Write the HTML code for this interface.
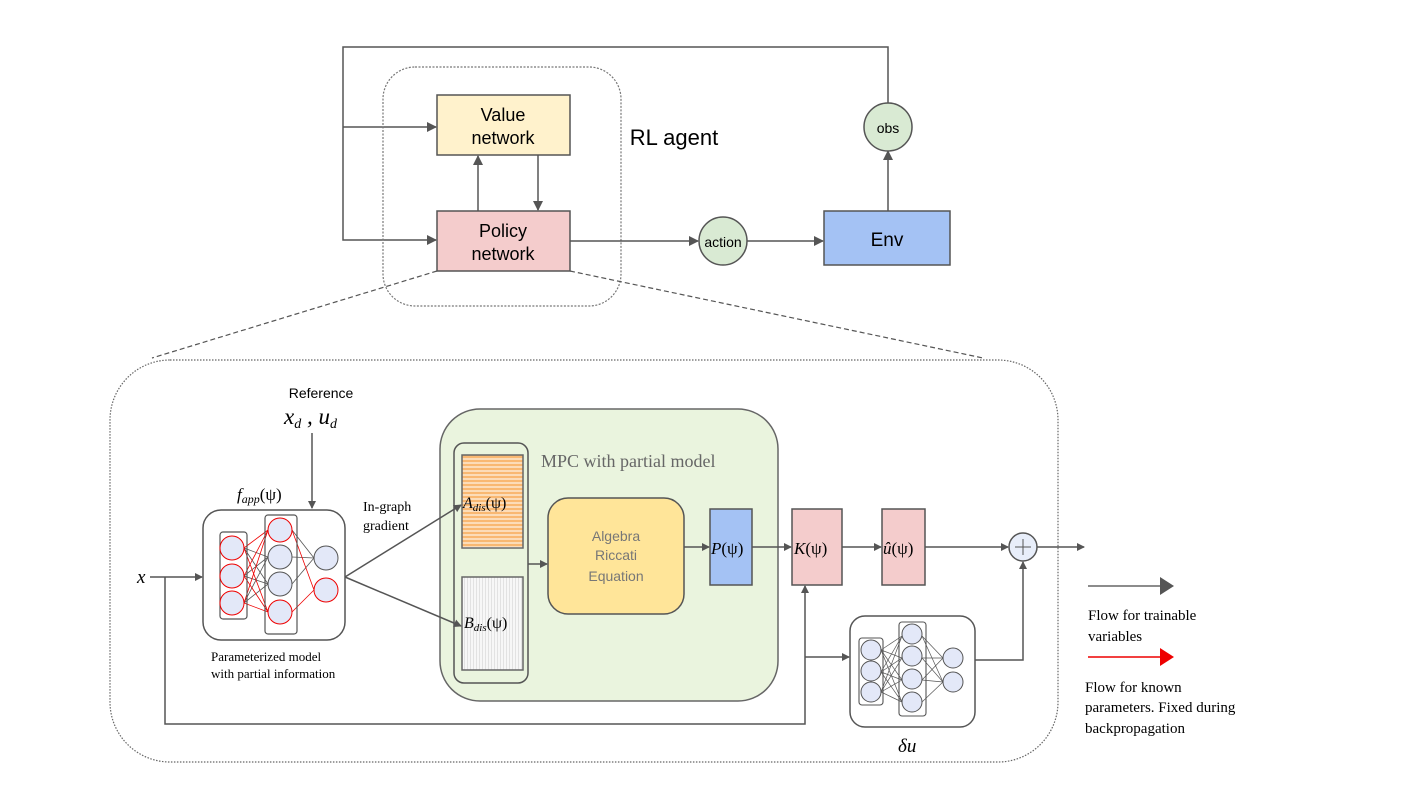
<!DOCTYPE html>
<html><head><meta charset="utf-8"><style>
html,body{margin:0;padding:0;background:#fff;}
svg{display:block;}
.s{font-family:"Liberation Sans",sans-serif;}
.r{font-family:"Liberation Serif",serif;}
</style></head><body>
<svg width="1412" height="794" viewBox="0 0 1412 794" xmlns="http://www.w3.org/2000/svg">
<defs>
<marker id="a" markerWidth="10" markerHeight="10" refX="9" refY="5" orient="auto" markerUnits="userSpaceOnUse"><path d="M0,0 L10,5 L0,10 z" fill="#555"/></marker>
<marker id="as" markerWidth="8" markerHeight="8" refX="7" refY="4" orient="auto" markerUnits="userSpaceOnUse"><path d="M0,0 L8,4 L0,8 z" fill="#555"/></marker>
<pattern id="po" width="4" height="4" patternUnits="userSpaceOnUse"><rect width="4" height="4" fill="#f9b872"/><rect y="2.5" width="4" height="1" fill="#fff"/></pattern>
<pattern id="pw" width="3" height="4" patternUnits="userSpaceOnUse"><rect width="3" height="4" fill="#f7f7f7"/><rect x="2" width="1" height="4" fill="#e2e2e2"/></pattern>
</defs>
<g stroke="#555" stroke-width="1.5" fill="none">
<polyline points="888,104 888,47 343,47 343,240 436,240" marker-end="url(#a)"/>
<line x1="343" y1="127" x2="436" y2="127" marker-end="url(#a)"/>
<rect x="383" y="67" width="238" height="239" rx="32" stroke="#777" stroke-width="1.2" stroke-dasharray="2,1.5"/>
<rect x="437" y="95" width="133" height="60" fill="#fff2cc"/>
<rect x="437" y="211" width="133" height="60" fill="#f4cccc"/>
<line x1="478" y1="211" x2="478" y2="156" marker-end="url(#a)"/>
<line x1="538" y1="155" x2="538" y2="210" marker-end="url(#a)"/>
<line x1="570" y1="241" x2="698" y2="241" marker-end="url(#a)"/>
<circle cx="723" cy="241" r="24" fill="#d9ead3"/>
<line x1="747" y1="241" x2="823" y2="241" marker-end="url(#a)"/>
<rect x="824" y="211" width="126" height="54" fill="#a4c2f4"/>
<line x1="888" y1="211" x2="888" y2="151" marker-end="url(#a)"/>
<circle cx="888" cy="127" r="24" fill="#d9ead3"/>
<line x1="437" y1="271" x2="152" y2="358" stroke-dasharray="5,3" stroke-width="1.2"/>
<line x1="570" y1="271" x2="983" y2="358" stroke-dasharray="5,3" stroke-width="1.2"/>
<rect x="110" y="360" width="948" height="402" rx="60" stroke="#666" stroke-width="1.2" stroke-dasharray="1.5,1.5"/>
<line x1="312" y1="433" x2="312" y2="508" marker-end="url(#as)"/>
<line x1="150" y1="577" x2="202" y2="577" marker-end="url(#as)"/>
<polyline points="165,577 165,724 805,724 805,586" marker-end="url(#as)"/>
<polyline points="805,657 849,657" marker-end="url(#as)"/>
<rect x="203" y="510" width="142" height="130" rx="18" fill="#fff"/>
<rect x="440" y="409" width="338" height="292" rx="40" fill="#eaf4de" stroke="#666"/>
<rect x="454" y="443" width="74" height="240" rx="10"/>
<rect x="462" y="455" width="61" height="93" fill="url(#po)" stroke="#666"/>
<rect x="462" y="577" width="61" height="93" fill="url(#pw)" stroke="#666"/>
<line x1="345" y1="577" x2="461" y2="505" marker-end="url(#as)"/>
<line x1="345" y1="577" x2="461" y2="626" marker-end="url(#as)"/>
<line x1="528" y1="564" x2="547" y2="564" marker-end="url(#as)"/>
<rect x="548" y="498" width="136" height="116" rx="20" fill="#ffe599"/>
<line x1="684" y1="547" x2="709" y2="547" marker-end="url(#as)"/>
<rect x="710" y="509" width="42" height="76" fill="#a4c2f4"/>
<line x1="752" y1="547" x2="791" y2="547" marker-end="url(#as)"/>
<rect x="792" y="509" width="50" height="76" fill="#f4cccc"/>
<line x1="842" y1="547" x2="881" y2="547" marker-end="url(#as)"/>
<rect x="882" y="509" width="43" height="76" fill="#f4cccc"/>
<line x1="925" y1="547" x2="1008" y2="547" marker-end="url(#as)"/>
<circle cx="1023" cy="547" r="14" fill="#e8eefa"/>
<line x1="1015" y1="547" x2="1031" y2="547" stroke-width="1"/>
<line x1="1023" y1="539" x2="1023" y2="555" stroke-width="1"/>
<line x1="1037" y1="547" x2="1084" y2="547" marker-end="url(#as)"/>
<polyline points="975,660 1023,660 1023,562" marker-end="url(#as)"/>
<rect x="850" y="616" width="125" height="111" rx="15" fill="#fff"/>
<line x1="1088" y1="586" x2="1160" y2="586" stroke="#666"/>
<path d="M1160,577 L1174,586 L1160,595 z" fill="#555" stroke="none"/>
<line x1="1088" y1="657" x2="1160" y2="657" stroke="#e00"/>
<path d="M1160,648 L1174,657 L1160,666 z" fill="#e00" stroke="none"/>
</g>
<g stroke-width="0.8">
<g stroke="#555">
<line x1="244" y1="548" x2="268" y2="557"/><line x1="244" y1="548" x2="268" y2="584"/>
<line x1="244" y1="576" x2="268" y2="557"/><line x1="244" y1="576" x2="268" y2="584"/>
<line x1="244" y1="603" x2="268" y2="557"/><line x1="244" y1="603" x2="268" y2="584"/>
<line x1="292" y1="557" x2="314" y2="558"/><line x1="292" y1="584" x2="314" y2="558"/>
<line x1="292" y1="530" x2="314" y2="558"/>
</g>
<g stroke="#e00">
<line x1="244" y1="548" x2="268" y2="530"/><line x1="244" y1="548" x2="268" y2="612"/>
<line x1="244" y1="576" x2="268" y2="530"/><line x1="244" y1="576" x2="268" y2="612"/>
<line x1="244" y1="603" x2="268" y2="530"/><line x1="244" y1="603" x2="268" y2="612"/>
<line x1="292" y1="530" x2="314" y2="590"/><line x1="292" y1="612" x2="314" y2="590"/>
</g>
</g>
<g fill="none" stroke="#555" stroke-width="1.2">
<rect x="220" y="532" width="27" height="87" rx="3"/>
<rect x="265" y="515" width="32" height="119" rx="3"/>
</g>
<g fill="#e3e8f8" stroke-width="1">
<circle cx="232" cy="548" r="12" stroke="#e00"/><circle cx="232" cy="576" r="12" stroke="#e00"/><circle cx="232" cy="603" r="12" stroke="#e00"/>
<circle cx="280" cy="530" r="12" stroke="#e00"/><circle cx="280" cy="557" r="12" stroke="#555"/><circle cx="280" cy="584" r="12" stroke="#555"/><circle cx="280" cy="612" r="12" stroke="#e00"/>
<circle cx="326" cy="558" r="12" stroke="#555"/><circle cx="326" cy="590" r="12" stroke="#e00"/>
</g>
<g stroke="#555" stroke-width="0.7">
<line x1="881" y1="650" x2="902" y2="636"/><line x1="881" y1="650" x2="902" y2="658"/><line x1="881" y1="650" x2="902" y2="680"/><line x1="881" y1="650" x2="902" y2="702"/>
<line x1="881" y1="672" x2="902" y2="636"/><line x1="881" y1="672" x2="902" y2="658"/><line x1="881" y1="672" x2="902" y2="680"/><line x1="881" y1="672" x2="902" y2="702"/>
<line x1="881" y1="692" x2="902" y2="636"/><line x1="881" y1="692" x2="902" y2="658"/><line x1="881" y1="692" x2="902" y2="680"/><line x1="881" y1="692" x2="902" y2="702"/>
<line x1="922" y1="636" x2="943" y2="658"/><line x1="922" y1="658" x2="943" y2="658"/><line x1="922" y1="680" x2="943" y2="658"/><line x1="922" y1="702" x2="943" y2="682"/>
<line x1="922" y1="636" x2="943" y2="682"/><line x1="922" y1="680" x2="943" y2="682"/><line x1="922" y1="658" x2="943" y2="682"/>
</g>
<g fill="none" stroke="#555" stroke-width="1.1">
<rect x="859" y="638" width="24" height="67" rx="3"/>
<rect x="899" y="622" width="27" height="94" rx="3"/>
</g>
<g fill="#e3e8f8" stroke="#555" stroke-width="1">
<circle cx="871" cy="650" r="10"/><circle cx="871" cy="671" r="10"/><circle cx="871" cy="692" r="10"/>
<circle cx="912" cy="634" r="10"/><circle cx="912" cy="656" r="10"/><circle cx="912" cy="679" r="10"/><circle cx="912" cy="702" r="10"/>
<circle cx="953" cy="658" r="10"/><circle cx="953" cy="682" r="10"/>
</g>
<g class="s" fill="#000" text-anchor="middle">
<text x="503" y="121" font-size="18">Value</text>
<text x="503" y="144" font-size="18">network</text>
<text x="503" y="237" font-size="18">Policy</text>
<text x="503" y="260" font-size="18">network</text>
<text x="674" y="145" font-size="22">RL agent</text>
<text x="723" y="247" font-size="14">action</text>
<text x="888" y="133" font-size="14">obs</text>
<text x="887" y="246" font-size="19">Env</text>
<text x="321" y="398" font-size="14">Reference</text>
<text x="616" y="541" font-size="14" fill="#777">Algebra</text>
<text x="616" y="560" font-size="14" fill="#777">Riccati</text>
<text x="616" y="581" font-size="14" fill="#777">Equation</text>
</g>
<g class="r" fill="#000" font-style="italic">
<text x="284" y="424" font-size="23">x<tspan font-size="14" dy="4">d</tspan><tspan dy="-4"> , u</tspan><tspan font-size="14" dy="4">d</tspan></text>
<text x="237" y="500" font-size="17">f<tspan font-size="12" dy="3">app</tspan><tspan dy="-3" font-style="normal">(ψ)</tspan></text>
<text x="137" y="583" font-size="19">x</text>
<text x="463" y="508" font-size="16">A<tspan font-size="11" dy="3">dis</tspan><tspan dy="-3" font-style="normal">(ψ)</tspan></text>
<text x="464" y="628" font-size="16">B<tspan font-size="11" dy="3">dis</tspan><tspan dy="-3" font-style="normal">(ψ)</tspan></text>
<text x="711" y="554" font-size="17">P<tspan font-style="normal">(ψ)</tspan></text>
<text x="794" y="554" font-size="17">K<tspan font-style="normal">(ψ)</tspan></text>
<text x="883" y="554" font-size="17">û<tspan font-style="normal">(ψ)</tspan></text>
<text x="898" y="752" font-size="19">δu</text>
</g>
<g class="r" fill="#000" font-size="14">
<text x="363" y="511">In-graph</text>
<text x="363" y="530">gradient</text>
<text x="211" y="661" font-size="13">Parameterized model</text>
<text x="211" y="678" font-size="13">with partial information</text>
<text x="541" y="467" font-size="18" fill="#666">MPC with partial model</text>
<text x="1088" y="620" font-size="15">Flow for trainable</text>
<text x="1088" y="641" font-size="15">variables</text>
<text x="1085" y="692" font-size="15">Flow for known</text>
<text x="1085" y="712" font-size="15">parameters. Fixed during</text>
<text x="1085" y="733" font-size="15">backpropagation</text>
</g>
</svg>
</body></html>
